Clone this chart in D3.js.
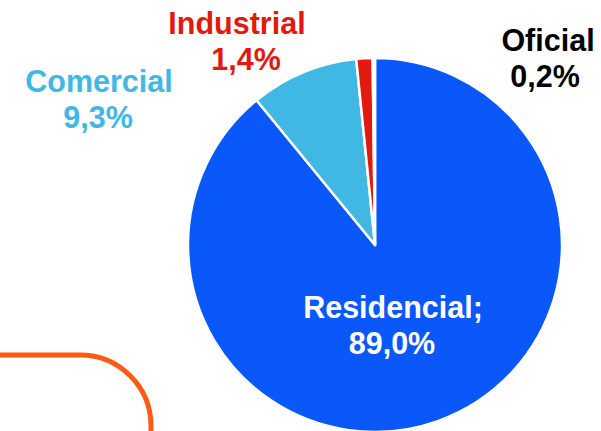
<!DOCTYPE html>
<html>
<head>
<meta charset="utf-8">
<script src="https://cdn.jsdelivr.net/npm/d3@7"></script>
<style>
  html, body { margin: 0; padding: 0; background: #fff; overflow: hidden; }
  text { font-family: "Liberation Sans", Arial, sans-serif; font-weight: bold; }
</style>
</head>
<body>
<div id="chart"></div>
<script>
// data
var categories = ['Residencial', 'Comercial', 'Industrial', 'Oficial'];
var shares = [89.0, 9.3, 1.4, 0.2];
var labelNames = ['Residencial;', 'Comercial', 'Industrial', 'Oficial'];
var labelValues = ['89,0%', '9,3%', '1,4%', '0,2%'];

var sliceColors = ['#0a58fa', '#41b8e4', '#e2190f', '#ffffff'];
var labelColors = ['#ffffff', '#41b8e4', '#e2190f', '#000000'];
// label spots (centre x of name, centre x of value, first baseline)
var labelPos = [[393, 392, 318], [99, 98, 92], [237, 246, 34], [548, 545, 51]];

var width = 601, height = 431;
var cx = 375, cy = 245, r = 187;

var svg = d3.select('#chart').append('svg')
  .attr('width', width)
  .attr('height', height);

// orange decorative corner
var cornerR = 71;
var orange = d3.path();
orange.moveTo(-5, 355);
orange.lineTo(151 - cornerR, 355);
orange.arc(151 - cornerR, 355 + cornerR, cornerR, -Math.PI / 2, 0);
orange.lineTo(151, 440);
svg.append('path')
  .attr('d', orange.toString())
  .attr('fill', 'none')
  .attr('stroke', '#ff5a14')
  .attr('stroke-width', 5);

var pie = d3.pie().sort(null).value(function (d) { return d; });
var arc = d3.arc().innerRadius(0).outerRadius(r);

var g = svg.append('g').attr('transform', 'translate(' + cx + ',' + cy + ')');

g.selectAll('path.slice')
  .data(pie(shares))
  .enter()
  .append('path')
  .attr('class', 'slice')
  .attr('d', arc)
  .attr('fill', function (d, i) { return sliceColors[i]; })
  .attr('stroke', '#fff')
  .attr('stroke-width', 2.5)
  .attr('stroke-linejoin', 'round');

var labels = svg.selectAll('text.lbl')
  .data(categories)
  .enter()
  .append('text')
  .attr('class', 'lbl')
  .attr('text-anchor', 'middle')
  .attr('font-size', 30.5)
  .attr('fill', function (d, i) { return labelColors[i]; });

labels.append('tspan')
  .attr('x', function (d, i) { return labelPos[i][0]; })
  .attr('y', function (d, i) { return labelPos[i][2]; })
  .text(function (d, i) { return labelNames[i]; });

labels.append('tspan')
  .attr('x', function (d, i) { return labelPos[i][1]; })
  .attr('y', function (d, i) { return labelPos[i][2] + 36; })
  .text(function (d, i) { return labelValues[i]; });
</script>
</body>
</html>
